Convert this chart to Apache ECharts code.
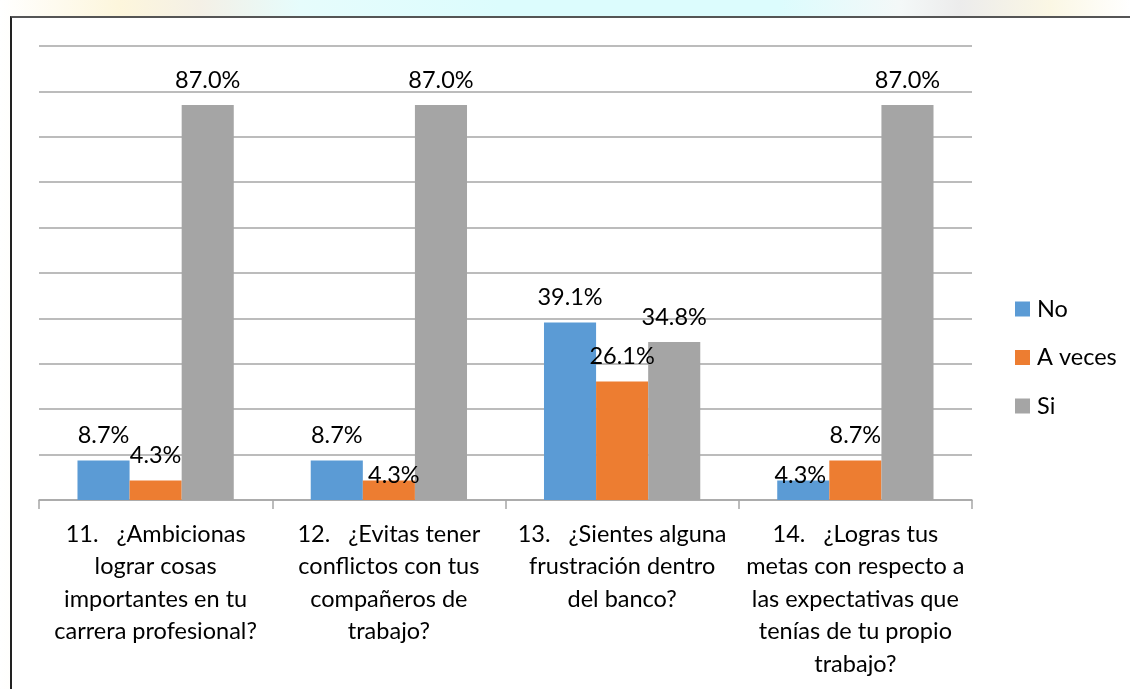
<!DOCTYPE html>
<html>
<head>
<meta charset="utf-8">
<script src="https://cdn.jsdelivr.net/npm/echarts@6/dist/echarts.min.js"></script>
<style>
  html, body { margin: 0; padding: 0; width: 1130px; height: 689px; overflow: hidden; }
  body {
    background: linear-gradient(90deg, #ffffff 0px, #fdf6dc 120px, #f4f0e6 200px, #e6fcfc 300px, #dcfcfd 500px, #dcfcfd 780px, #f4f8f8 900px, #ececec 960px, #fbf7e4 1050px, #ffffff 1130px);
  }
  #frame {
    position: absolute; left: 10px; top: 16px; width: 1130px; height: 700px;
    background: #fff; border-top: 2px solid #555; border-left: 2px solid #222;
  }
  #main { position: absolute; left: 0; top: 0; width: 1130px; height: 689px; }
</style>
</head>
<body>
<div id="frame"></div>
<div id="main"></div>
<script>
const categories = [
  '11.   ¿Ambicionas\nlograr cosas\nimportantes en tu\ncarrera profesional?',
  '12.   ¿Evitas tener\nconflictos con tus\ncompañeros de\ntrabajo?',
  '13.   ¿Sientes alguna\nfrustración dentro\ndel banco?',
  '14.   ¿Logras tus\nmetas con respecto a\nlas expectativas que\ntenías de tu propio\ntrabajo?'
];
const seriesNames = ['No', 'A veces', 'Si'];
const noValues = [8.7, 8.7, 39.1, 4.3];
const aVecesValues = [4.3, 4.3, 26.1, 8.7];
const siValues = [87.0, 87.0, 34.8, 87.0];
const colors = ['#5b9bd5', '#ed7d31', '#a5a5a5'];

// a few labels were moved by hand in the original chart
const labelNudge = { '1-1': [5, 20], '0-3': [-3, 20] };

const font = 'Lato, "Open Sans", sans-serif';
const fs = 23.5;

function makeSeries(name, values, si) {
  return {
    name: name,
    type: 'bar',
    barGap: '0%',
    barCategoryGap: '33%',
    itemStyle: { color: colors[si] },
    label: {
      show: true,
      position: 'top',
      distance: 13,
      color: '#000',
      fontFamily: font,
      fontSize: fs,
      formatter: p => p.value.toFixed(1) + '%'
    },
    data: values.map((v, i) => {
      const off = labelNudge[si + '-' + i];
      return off ? { value: v, label: { offset: off } } : v;
    })
  };
}

const chart = echarts.init(document.getElementById('main'));
chart.setOption({
  animation: false,
  backgroundColor: 'transparent',
  grid: { left: 39, right: 158, top: 46, bottom: 189 },
  legend: {
    orient: 'vertical',
    left: 1010,
    top: 292,
    itemWidth: 15,
    itemHeight: 15,
    itemGap: 24.5,
    icon: 'rect',
    textStyle: { fontFamily: font, fontSize: fs, lineHeight: 24, color: '#000', padding: [0, 0, 0, 2] },
    data: seriesNames
  },
  xAxis: {
    type: 'category',
    data: categories,
    axisLine: { lineStyle: { color: '#a6a6a6', width: 1.5 } },
    axisTick: { show: true, length: 9, lineStyle: { color: '#a6a6a6', width: 1.5 } },
    axisLabel: {
      interval: 0,
      margin: 18,
      color: '#000',
      fontFamily: font,
      fontSize: fs,
      lineHeight: 32.5,
      align: 'center'
    }
  },
  yAxis: {
    type: 'value',
    min: 0,
    max: 100,
    interval: 10,
    axisLabel: { show: false },
    axisLine: { show: false },
    axisTick: { show: false },
    splitLine: { lineStyle: { color: '#a6a6a6', width: 1.5 } }
  },
  series: [
    makeSeries(seriesNames[0], noValues, 0),
    makeSeries(seriesNames[1], aVecesValues, 1),
    makeSeries(seriesNames[2], siValues, 2)
  ]
});
</script>
</body>
</html>
